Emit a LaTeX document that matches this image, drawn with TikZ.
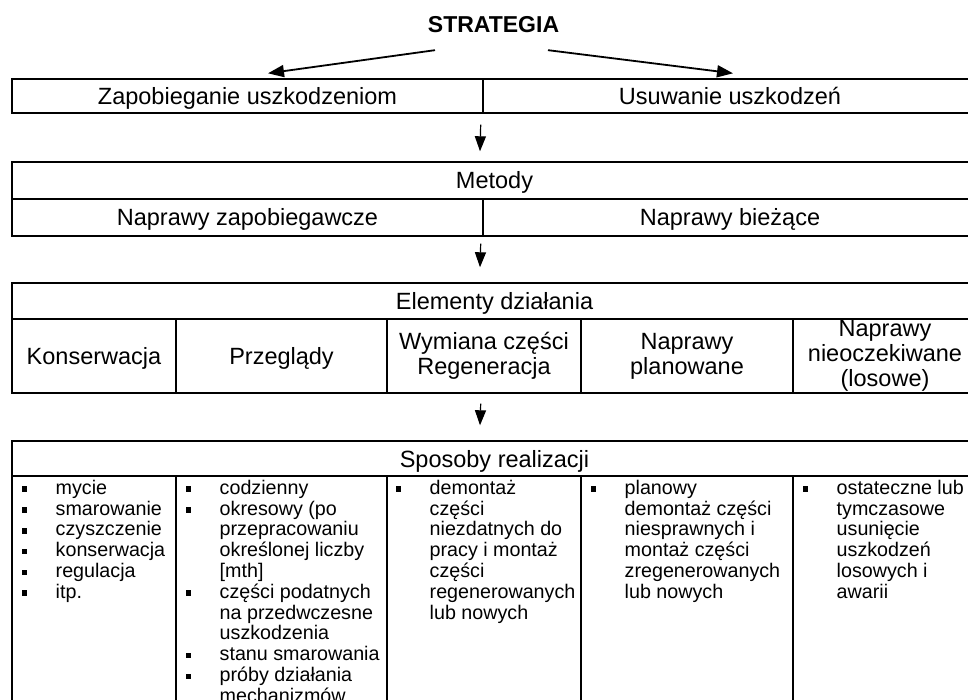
\documentclass[tikz,border=0pt]{standalone}
\usepackage{fontspec}
\setmainfont{Liberation Sans}
\usetikzlibrary{arrows.meta,calc}
% small filled square bullet followed by the hanging indent
\newcommand{\sqbullet}{\makebox[34pt][l]{\rule[2.4pt]{5.5pt}{5.5pt}}}
\newcommand{\hang}{\hspace*{34pt}}

\begin{document}
\begin{tikzpicture}[x=1pt,y=-1pt,
  cell/.style={draw, line width=1.4pt, rectangle, inner sep=0pt,
    font=\fontsize{23.5}{25}\selectfont, align=center},
  oneline/.style={text height=21pt, text depth=4pt},
  listtext/.style={anchor=north west, inner sep=0pt, align=left,
    font=\fontsize{19.7}{20.8}\selectfont},
  arr/.style={line width=1.2pt, -{Triangle[width=11pt,length=15pt]}},
  slant/.style={line width=1.8pt, -{Triangle[width=12pt,length=16pt]}}]

\useasboundingbox (0,0) rectangle (968,700);
\begin{scope}
\clip (0,0) rectangle (968,700);

% title
\node[font=\bfseries\fontsize{23}{25}\selectfont] (strat) at (493.5,24.5) {STRATEGIA};

% level 1: strategy branches
\node[cell, oneline, minimum width=471pt, minimum height=34pt] (zap) at (247.5,96) {Zapobieganie uszkodzeniom};
\node[cell, oneline, minimum width=494pt, minimum height=34pt] (usu) at (730,96) {Usuwanie uszkodzeń};

% level 2: methods
\node[cell, oneline, minimum width=965pt, minimum height=37pt] (met) at (494.5,180.5) {Metody};
\node[cell, oneline, minimum width=471pt, minimum height=37pt] (nzap) at (247.5,217.5) {Naprawy zapobiegawcze};
\node[cell, oneline, minimum width=494pt, minimum height=37pt] (nbie) at (730,217.5) {Naprawy bieżące};

% level 3: elements of action
\node[cell, oneline, minimum width=965pt, minimum height=36pt] (ele) at (494.5,301) {Elementy działania};
\node[cell, oneline, minimum width=164pt, minimum height=74pt] (kon) at (94,356) {Konserwacja};
\node[cell, oneline, minimum width=211pt, minimum height=74pt] (prz) at (281.5,356) {Przeglądy};
\node[cell, minimum width=194pt, minimum height=74pt] (wym) at (484,356) {Wymiana części\\Regeneracja};
\node[cell, minimum width=212pt, minimum height=74pt] (npl) at (687,356) {Naprawy\\planowane};
\node[cell, minimum width=184pt, minimum height=74pt] (nnie) at (885,356) {Naprawy\\nieoczekiwane\\(losowe)};

% level 4: ways of realisation
\node[cell, oneline, minimum width=965pt, minimum height=35pt] (spo) at (494.5,458.5) {Sposoby realizacji};
\node[cell, minimum width=164pt, minimum height=260pt] (r1) at (94,606) {};
\node[cell, minimum width=211pt, minimum height=260pt] (r2) at (281.5,606) {};
\node[cell, minimum width=194pt, minimum height=260pt] (r3) at (484,606) {};
\node[cell, minimum width=212pt, minimum height=260pt] (r4) at (687,606) {};
\node[cell, minimum width=184pt, minimum height=260pt] (r5) at (885,606) {};

\node[listtext] (l1) at (21.5,479.6) {%
\strut\sqbullet mycie\\
\strut\sqbullet smarowanie\\
\strut\sqbullet czyszczenie\\
\strut\sqbullet konserwacja\\
\strut\sqbullet regulacja\\
\strut\sqbullet itp.};

\node[listtext] (l2) at (185.5,479.6) {%
\strut\sqbullet codzienny\\
\strut\sqbullet okresowy (po\\
\strut\hang przepracowaniu\\
\strut\hang określonej liczby\\
\strut\hang [mth]\\
\strut\sqbullet części podatnych\\
\strut\hang na przedwczesne\\
\strut\hang uszkodzenia\\
\strut\sqbullet stanu smarowania\\
\strut\sqbullet próby działania\\
\strut\hang mechanizmów};

\node[listtext] (l3) at (395.5,479.6) {%
\strut\sqbullet demontaż\\
\strut\hang części\\
\strut\hang niezdatnych do\\
\strut\hang pracy i montaż\\
\strut\hang części\\
\strut\hang regenerowanych\\
\strut\hang lub nowych};

\node[listtext] (l4) at (590.5,479.6) {%
\strut\sqbullet planowy\\
\strut\hang demontaż części\\
\strut\hang niesprawnych i\\
\strut\hang montaż części\\
\strut\hang zregenerowanych\\
\strut\hang lub nowych};

\node[listtext] (l5) at (802.5,479.6) {%
\strut\sqbullet ostateczne lub\\
\strut\hang tymczasowe\\
\strut\hang usunięcie\\
\strut\hang uszkodzeń\\
\strut\hang losowych i\\
\strut\hang awarii};

% connectors
\coordinate (sl) at ($(strat.south)+(-58.5,14)$);
\coordinate (sr) at ($(strat.south)+(54.5,14)$);
\draw[slant] (sl) -- ($(zap.north)+(20.5,-5)$);
\draw[slant] (sr) -- ($(usu.north)+(3,-5)$);

\coordinate (d1) at ($(zap.south east)+(-3,11)$);
\draw[arr] (d1) -- ($(met.north)+(-14.5,-10)$);
\coordinate (d2) at ($(nzap.south east)+(-3,7)$);
\draw[arr] (d2) -- ($(ele.north)+(-14.5,-15)$);
\coordinate (d3) at ($(prz.south east)+(93,10)$);
\draw[arr] (d3) -- ($(spo.north)+(-14.5,-15)$);
\end{scope}
\end{tikzpicture}
\end{document}
